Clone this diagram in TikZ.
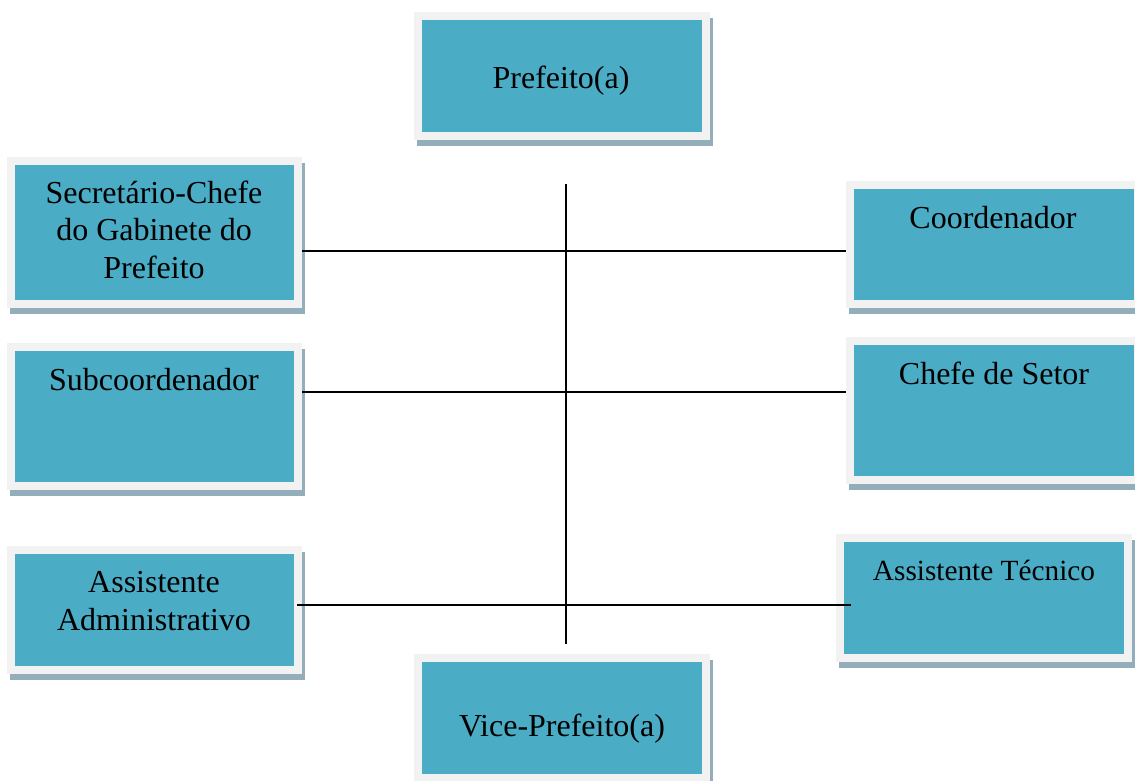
\documentclass[tikz,border=0pt]{standalone}
\usepackage{fontspec}
\setmainfont{Liberation Serif}
\usetikzlibrary{shadows,calc}
\definecolor{tealc}{HTML}{4BACC6}
\definecolor{framec}{HTML}{F2F2F2}
\definecolor{shadc}{HTML}{93ADBA}
\tikzset{
  orgbox/.style={draw=none, fill=framec, inner sep=0pt, outer sep=0pt,
    drop shadow={shadow xshift=3pt, shadow yshift=-6pt, fill=shadc, opacity=1},
    path picture={\fill[tealc] ([shift={(8pt,8pt)}]path picture bounding box.south west) rectangle ([shift={(-8pt,-8pt)}]path picture bounding box.north east);}},
  lbl/.style={inner sep=0pt, anchor=base, align=center, font=\fontsize{32}{37.5}\selectfont},
  conn/.style={line width=1.8pt, black}
}
\begin{document}
\begin{tikzpicture}[x=1pt,y=-1pt]
\useasboundingbox[fill=white] (0,0) rectangle (1135,781);
% boxes
\node[orgbox, minimum width=296pt, minimum height=128pt] (P)   at (562,76) {};
\node[orgbox, minimum width=295pt, minimum height=151pt] (S)   at (154.5,232.5) {};
\node[orgbox, minimum width=295pt, minimum height=147pt] (Sub) at (154.5,416.5) {};
\node[orgbox, minimum width=295pt, minimum height=128pt] (AA)  at (154.5,610) {};
\node[orgbox, minimum width=296pt, minimum height=127pt] (C)   at (994,244.5) {};
\node[orgbox, minimum width=296pt, minimum height=147pt] (CS)  at (994,410.5) {};
\node[orgbox, minimum width=296pt, minimum height=128pt] (AT)  at (984,598) {};
\node[orgbox, minimum width=296pt, minimum height=128pt] (V)   at (562,718) {};
% labels
\node[lbl] (tP)   at (561,89)  {Prefeito(a)};
\node[lbl] (tS)   at (154,278) {Secretário-Chefe\\do Gabinete do\\Prefeito};
\node[lbl] (tSub) at (154,390) {Subcoordenador};
\node[lbl] (tAA)  at (154,630) {Assistente\\Administrativo};
\node[lbl] (tC)   at (993,228) {Coordenador};
\node[lbl] (tCS)  at (994,384) {Chefe de Setor};
\node[lbl, font=\fontsize{29.3}{35}\selectfont] (tAT) at (984,580) {Assistente Técnico};
\node[lbl] (tV)   at (562,736) {Vice-Prefeito(a)};
% connectors
\coordinate (vt) at (566,184);
\coordinate (vb) at (566,644);
\coordinate (h1) at (0,251);
\coordinate (h2) at (0,392);
\coordinate (h3) at (0,605);
\draw[conn] (vt) -- (vb);
\draw[conn] (S.east |- h1) -- (C.west |- h1);
\draw[conn] (Sub.east |- h2) -- (CS.west |- h2);
\draw[conn] ([xshift=-5pt]AA.east |- h3) -- ([xshift=15pt]AT.west |- h3);
\end{tikzpicture}
\end{document}
